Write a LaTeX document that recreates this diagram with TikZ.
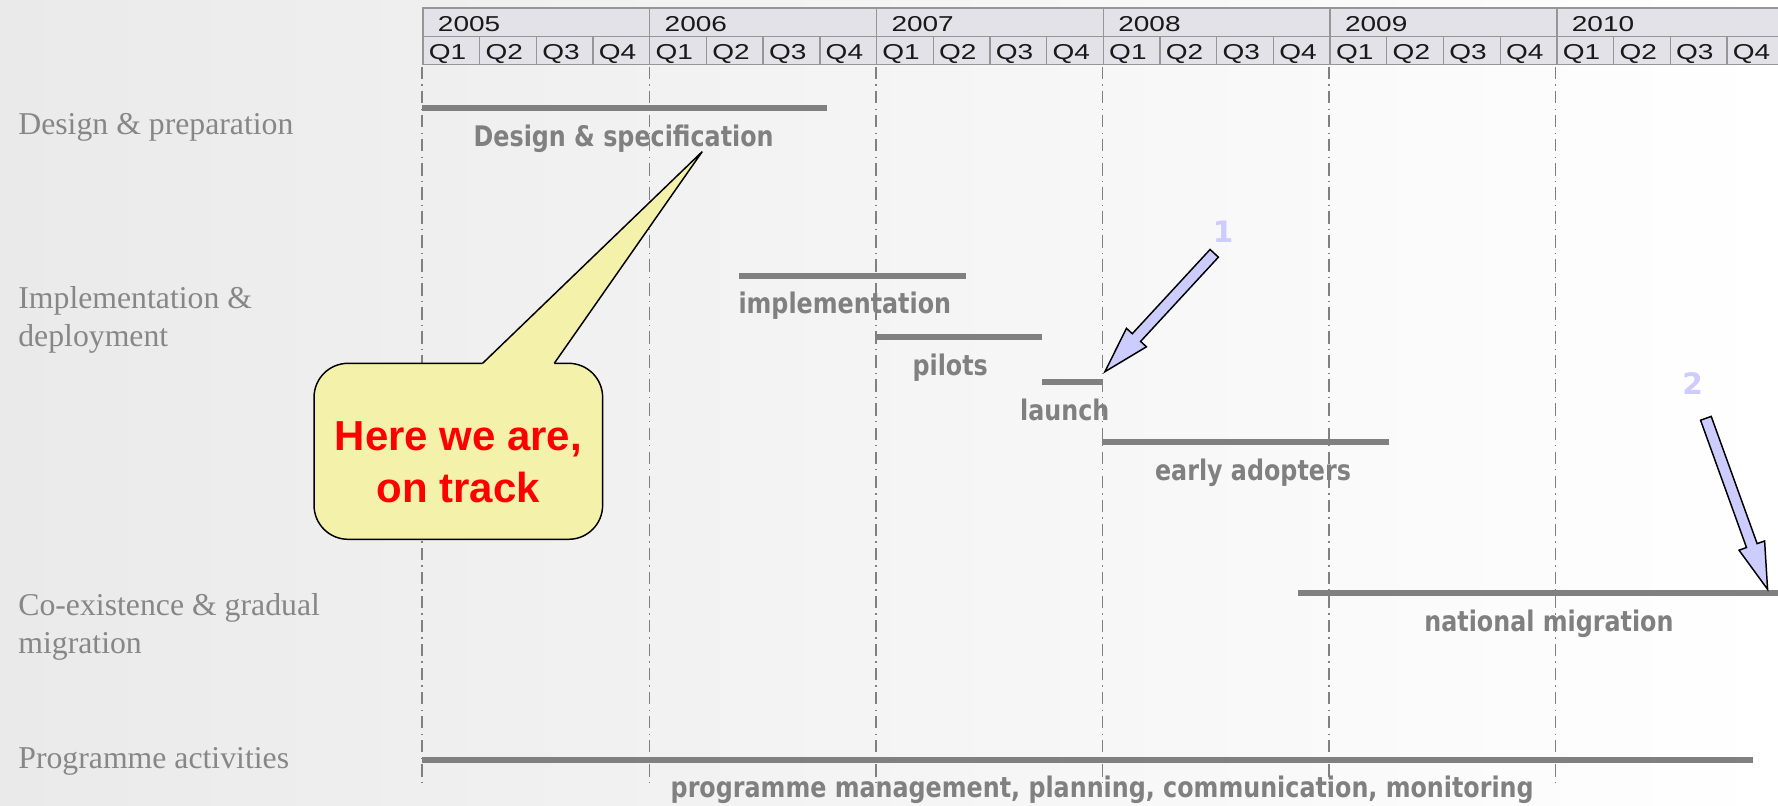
\documentclass[tikz,border=0pt]{standalone}
\usepackage{fontspec}
\setmainfont{Liberation Serif}
\newfontfamily\hdrfont[FakeStretch=1.3]{Liberation Sans}
\newfontfamily\barfont[FakeStretch=0.84]{DejaVu Sans}
\newfontfamily\numfont{DejaVu Sans}
\newfontfamily\callfont{Liberation Sans}
\usetikzlibrary{calc}
\definecolor{bargray}{RGB}{128,128,128}
\definecolor{rowgray}{RGB}{135,135,135}
\definecolor{hdrfill}{RGB}{226,226,232}
\definecolor{hdrline}{RGB}{150,150,150}
\definecolor{notefill}{RGB}{243,241,170}
\definecolor{notered}{RGB}{255,0,0}
\definecolor{arrowfill}{RGB}{204,204,255}
\definecolor{bgleft}{RGB}{234,234,234}
\tikzstyle{bar}=[draw=bargray,line width=5.3pt]
\tikzstyle{barlabel}=[text=bargray,anchor=base,inner sep=0pt,
                      font=\barfont\bfseries\fontsize{25}{30}\selectfont]
\tikzstyle{rowlabel}=[text=rowgray,anchor=base west,align=left,inner sep=0pt,
                      font=\fontsize{28}{33.7}\selectfont]
\tikzstyle{hdrcell}=[draw=hdrline,fill=hdrfill,line width=1.2pt]
\tikzstyle{hdrtext}=[text=black!90,anchor=base west,inner sep=0pt,
                     font=\hdrfont\fontsize{19}{21}\selectfont]
\tikzstyle{yearline}=[draw=bargray,line width=1.2pt,
                      dash pattern=on 11pt off 4.5pt on 1.2pt off 4.5pt]
\tikzstyle{callout}=[draw=black,fill=notefill,line width=1.3pt,
                     rounded corners=30pt,minimum width=254.5pt,minimum height=155.2pt]
\tikzstyle{calltext}=[text=notered,align=center,inner sep=0pt,
                      font=\callfont\bfseries\fontsize{37}{45.6}\selectfont]
\tikzstyle{fatarrow}=[draw=black,fill=arrowfill,line width=1.3pt,line join=miter]
\tikzstyle{arrownum}=[text=arrowfill,inner sep=0pt,
                      font=\numfont\bfseries\fontsize{26}{30}\selectfont]
\begin{document}
\begin{tikzpicture}[x=1pt,y=-1pt]
    \newcommand{\fatarrow}[2]{%
      \coordinate (h) at ($(#2)!41pt!(#1)$);
      \draw[fatarrow] (#2) -- ($(h)!12pt!90:(#1)$) -- ($(h)!5pt!90:(#1)$)
        -- ($(#1)!5pt!-90:(#2)$) -- ($(#1)!5pt!90:(#2)$)
        -- ($(h)!5pt!-90:(#1)$) -- ($(h)!12pt!-90:(#1)$) -- cycle;}
    \useasboundingbox (0,0) rectangle (1568,710);
    \clip (0,0) rectangle (1568,710);
    \shade[left color=bgleft,right color=white] (0,0) rectangle (1568,710);
    % time scale
    \foreach \yr [count=\i from 0] in {2005,...,2010} {
      \draw[hdrcell] (373+200*\i,7) rectangle ++(200,25);
      \node (y\yr) at (386+200*\i,28) [hdrtext]{\yr};
      \foreach \q in {1,...,4} {
        \draw[hdrcell] (323+200*\i+50*\q,32) rectangle ++(50,25);
        \node (q\yr\q) at (328+200*\i+50*\q,52.5) [hdrtext]{Q\q};
      }
    }
    % phases (base = last line)
    \node (rdes)  at (16,119)   [rowlabel]{Design \& preparation};
    \node (rimp)  at (16,305.7) [rowlabel]{Implementation \&\\deployment};
    \node (rcoex) at (16,576.7) [rowlabel]{Co-existence \& gradual\\migration};
    \node (rprog) at (16,678)   [rowlabel]{Programme activities};
    % activities
    \foreach \n/\y/\a/\b/\c/\t in {
        des/95.5/372/729/550/{Design \& specification},
        imp/243.4/652/852/745/{implementation},
        pil/297.5/772/919/838/{pilots},
        lau/337.1/919/972/939/{launch},
        ear/390/972/1225/1105/{early adopters},
        nat/523/1145/1580/1366/{national migration},
        prg/670/372/1546/972/{programme management, planning, communication, monitoring}} {
      \draw[bar] (\a,\y) coordinate (\n s) -- (\b,\y) coordinate (\n e);
      \node (\n) at (\c,\y+33.5) [barlabel]{\t};
    }
    \foreach \x in {372,572.5,772.5,972,1172,1372}
      \draw[yearline] (\x,59) -- (\x,694);
    % callout
    \node (note) at (404.2,398) [callout]{};
    \coordinate (ptip) at (619.3,133.7);
    \coordinate (pbl) at (425.6,320.4);
    \coordinate (pbr) at (488.8,320.4);
    \fill[notefill] (pbl) -- (ptip) -- (pbr) -- ++(0,4) -- ($(pbl)+(0,4)$) -- cycle;
    \draw[line width=1.3pt,line join=miter] (pbl) -- (ptip) -- (pbr);
    \node (notetext) at (404.2,407.5) [calltext]{Here we are,\\on track};
    % milestones
    \coordinate (a1tail) at (1070.8,223.4);
    \coordinate (a1tip) at (974.4,327.8);
    \coordinate (a2tail) at (1504.4,368.9);
    \coordinate (a2tip) at (1558.8,519.7);
    \node (n1) at (1078.6,204.3) [arrownum]{1};
    \node (n2) at (1492.6,338) [arrownum]{2};
    \fatarrow{a1tail}{a1tip}
    \fatarrow{a2tail}{a2tip}
\end{tikzpicture}
\end{document}
